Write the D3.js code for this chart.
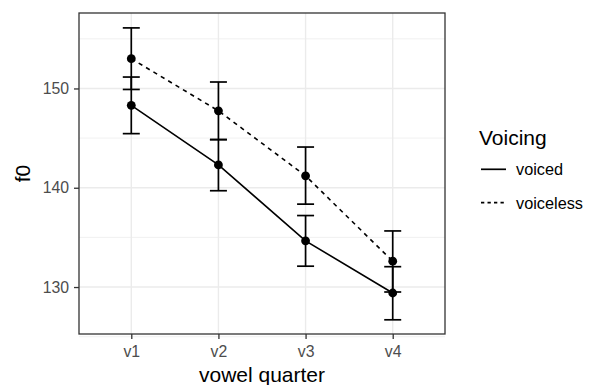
<!DOCTYPE html>
<html>
<head>
<meta charset="utf-8">
<script src="https://cdn.jsdelivr.net/npm/d3@7"></script>
<style>
  body { margin: 0; background: #fff; }
  text { font-family: "Liberation Sans", Arial, Helvetica, sans-serif; }
</style>
</head>
<body>
<svg id="chart" width="596" height="385"></svg>
<script>
// data
const quarters = ["v1", "v2", "v3", "v4"];
const voicedMean = [148.3, 142.3, 134.65, 129.4];
const voicedLow = [145.45, 139.7, 132.1, 126.7];
const voicedHigh = [151.15, 144.85, 137.2, 132.05];
const voicelessMean = [153.0, 147.75, 141.2, 132.6];
const voicelessLow = [149.9, 144.85, 138.35, 129.5];
const voicelessHigh = [156.1, 150.65, 144.1, 135.65];
const yTicks = [130, 140, 150];
const yMinor = [125, 135, 145, 155];
const seriesNames = ["voiced", "voiceless"];

const series = [
  { name: "voiced", mean: voicedMean, low: voicedLow, high: voicedHigh, dash: null, keyDash: null },
  { name: "voiceless", mean: voicelessMean, low: voicelessLow, high: voicelessHigh, dash: "4.3,4.3", keyDash: "3.3,3.2" }
];

const svg = d3.select("#chart");
const panel = { left: 79, top: 13, right: 445, bottom: 334 };

const x = d3.scalePoint()
  .domain(quarters)
  .range([panel.left, panel.right])
  .padding(0.6);

const y = d3.scaleLinear()
  .domain([125.27, 157.6])
  .range([panel.bottom, panel.top]);

// grid
const grid = svg.append("g");
grid.selectAll(".minor").data(yMinor).enter().append("line")
  .attr("x1", panel.left).attr("x2", panel.right)
  .attr("y1", d => y(d)).attr("y2", d => y(d))
  .attr("stroke", "#ebebeb").attr("stroke-width", 0.7);
grid.selectAll(".majory").data(yTicks).enter().append("line")
  .attr("x1", panel.left).attr("x2", panel.right)
  .attr("y1", d => y(d)).attr("y2", d => y(d))
  .attr("stroke", "#ebebeb").attr("stroke-width", 1.4);
grid.selectAll(".majorx").data(quarters).enter().append("line")
  .attr("x1", d => x(d)).attr("x2", d => x(d))
  .attr("y1", panel.top).attr("y2", panel.bottom)
  .attr("stroke", "#ebebeb").attr("stroke-width", 1.4);

// axes
const yAxis = svg.append("g")
  .attr("transform", `translate(${panel.left},0)`)
  .call(d3.axisLeft(y).tickValues(yTicks).tickSize(5).tickPadding(5));
const xAxis = svg.append("g")
  .attr("transform", `translate(0,${panel.bottom})`)
  .call(d3.axisBottom(x).tickSize(5).tickPadding(7));
[yAxis, xAxis].forEach(a => {
  a.select(".domain").remove();
  a.selectAll("line").attr("stroke", "#333333").attr("stroke-width", 1.3);
  a.selectAll("text").attr("fill", "#4d4d4d").style("font-size", "15.8px")
    .style("font-family", "'Liberation Sans', Arial, sans-serif");
});

// error bars, lines, points
const line = d3.line().x(d => x(d.q)).y(d => y(d.v));
series.forEach(s => {
  const pts = quarters.map((q, i) => ({ q, v: s.mean[i], lo: s.low[i], hi: s.high[i] }));
  const g = svg.append("g");
  g.selectAll(".bar").data(pts).enter().append("line")
    .attr("x1", d => x(d.q)).attr("x2", d => x(d.q))
    .attr("y1", d => y(d.lo)).attr("y2", d => y(d.hi))
    .attr("stroke", "#000").attr("stroke-width", 1.7);
  ["lo", "hi"].forEach(k => {
    g.selectAll(".cap" + k).data(pts).enter().append("line")
      .attr("x1", d => x(d.q) - 8.5).attr("x2", d => x(d.q) + 8.5)
      .attr("y1", d => y(d[k])).attr("y2", d => y(d[k]))
      .attr("stroke", "#000").attr("stroke-width", 1.7);
  });
  g.append("path").datum(pts)
    .attr("d", line).attr("fill", "none")
    .attr("stroke", "#000").attr("stroke-width", 1.6)
    .attr("stroke-dasharray", s.dash);
  g.selectAll("circle").data(pts).enter().append("circle")
    .attr("cx", d => x(d.q)).attr("cy", d => y(d.v)).attr("r", 4.4)
    .attr("fill", "#000");
});

// panel border
svg.append("rect")
  .attr("x", panel.left).attr("y", panel.top)
  .attr("width", panel.right - panel.left).attr("height", panel.bottom - panel.top)
  .attr("fill", "none").attr("stroke", "#333333").attr("stroke-width", 1.3);

// axis titles
svg.append("text")
  .attr("x", (panel.left + panel.right) / 2).attr("y", 382)
  .attr("text-anchor", "middle").style("font-size", "21px").attr("fill", "#000")
  .text("vowel quarter");
svg.append("text")
  .attr("transform", `translate(30,${(panel.top + panel.bottom) / 2}) rotate(-90)`)
  .attr("text-anchor", "middle").style("font-size", "21px").attr("fill", "#000")
  .text("f0");

// legend
const legend = svg.append("g");
legend.append("text").attr("x", 479).attr("y", 145)
  .style("font-size", "21px").attr("fill", "#000").text("Voicing");
seriesNames.forEach((n, i) => {
  const ly = 169.3 + i * 33.4;
  legend.append("line")
    .attr("x1", 481).attr("x2", 506).attr("y1", ly).attr("y2", ly)
    .attr("stroke", "#000").attr("stroke-width", 1.7)
    .attr("stroke-dasharray", series[i].keyDash);
  legend.append("text").attr("x", 516).attr("y", ly + 5.8)
    .style("font-size", "16.3px").attr("fill", "#000").text(n);
});
</script>
</body>
</html>
